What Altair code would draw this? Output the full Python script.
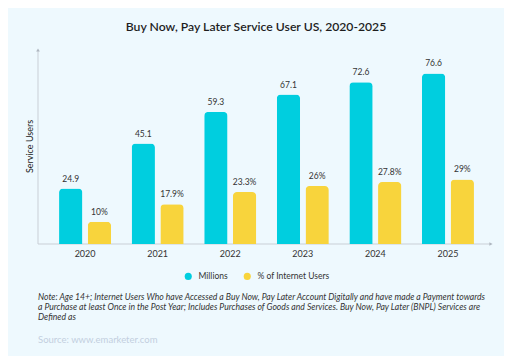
import altair as alt
import pandas as pd

years = ["2020", "2021", "2022", "2023", "2024", "2025"]
millions = [24.9, 45.1, 59.3, 67.1, 72.6, 76.6]
millions_labels = ["24.9", "45.1", "59.3", "67.1", "72.6", "76.6"]
pct = [10, 17.9, 23.3, 26, 27.8, 29]
pct_labels = ["10%", "17.9%", "23.3%", "26%", "27.8%", "29%"]
series = ["Millions", "% of Internet Users"]
colors = ["#00CEDF", "#F8D43C"]

title_text = "Buy Now, Pay Later Service User US, 2020-2025"
note_lines = [
    "Note: Age 14+; Internet Users Who have Accessed a Buy Now, Pay Later Account Digitally and have made a Payment towards",
    "a Purchase at least Once in the Post Year; Includes Purchases of Goods and Services. Buy Now, Pay Later (BNPL) Services are",
    "Defined as",
]
source_text = "Source: www.emarketer.com"

rows = []
for i, y in enumerate(years):
    rows.append({"year": y, "series": series[0], "value": millions[i], "label": millions_labels[i]})
    rows.append({"year": y, "series": series[1], "value": pct[i], "label": pct_labels[i]})
df = pd.DataFrame(rows)

FONT = "Lato"
W, H = 457, 196

x_enc = alt.X("year:N", sort=years,
              scale=alt.Scale(paddingInner=0.283, paddingOuter=0.29),
              axis=alt.Axis(title=None, domain=False, ticks=False, labelAngle=0,
                            labelPadding=5, labelFontSize=9, labelColor="#333333",
                            labelFont=FONT))
xo_enc = alt.XOffset("series:N", sort=series, scale=alt.Scale(paddingInner=0.188))
y_enc = alt.Y("value:Q", scale=alt.Scale(domain=[0, 88]),
              axis=alt.Axis(title="Service Users", domain=False, ticks=False,
                            labels=False, grid=False, titleFontSize=9,
                            titleColor="#222222", titlePadding=4, titleFont=FONT,
                            titleFontWeight="normal"))

base = alt.Chart(df)

bars = base.mark_bar(cornerRadiusTopLeft=4, cornerRadiusTopRight=4).encode(
    x=x_enc, xOffset=xo_enc, y=y_enc,
    color=alt.Color("series:N", sort=series,
                    scale=alt.Scale(domain=series, range=colors),
                    legend=alt.Legend(title=None, orient="none", legendX=146, legendY=224,
                                      direction="horizontal", symbolType="circle",
                                      symbolSize=50, symbolStrokeWidth=0,
                                      labelFontSize=8.5, labelFont=FONT,
                                      labelColor="#333333", columnPadding=15,
                                      padding=0, labelOffset=6)),
)

labels = base.mark_text(baseline="bottom", dy=-5, fontSize=8.5, font=FONT,
                        color="#333333").encode(
    x=x_enc, xOffset=xo_enc, y=y_enc, text="label:N"
)

one = alt.Data(values=[{}])
axis_color = "#C9CFD6"
y_line = alt.Chart(one).mark_rule(color=axis_color, strokeWidth=1).encode(
    x=alt.value(0), y=alt.value(2), y2=alt.value(H))
x_line = alt.Chart(one).mark_rule(color=axis_color, strokeWidth=1).encode(
    x=alt.value(0), x2=alt.value(453), y=alt.value(H))
y_arrow = alt.Chart(one).mark_point(shape="triangle-up", filled=True, size=14,
                                    color="#AEB6BF", opacity=1).encode(
    x=alt.value(0), y=alt.value(2))
x_arrow = alt.Chart(one).mark_point(shape="triangle-right", filled=True, size=14,
                                    color="#AEB6BF", opacity=1).encode(
    x=alt.value(453), y=alt.value(H))

title = alt.Chart(one).mark_text(fontSize=12.2, fontWeight=600, font=FONT,
                                 color="#1E1E1E", baseline="middle").encode(
    x=alt.value(218), y=alt.value(-21), text=alt.value(title_text))

note = alt.Chart(one).mark_text(align="left", baseline="top", fontSize=8.65,
                                fontStyle="italic", font=FONT, lineHeight=10,
                                color="#333333").encode(
    x=alt.value(0), y=alt.value(245), text=alt.value(note_lines))

source = alt.Chart(one).mark_text(align="left", baseline="middle", fontSize=9.5,
                                  font=FONT, color="#C3CFDF").encode(
    x=alt.value(0), y=alt.value(292), text=alt.value(source_text))

chart = alt.layer(y_line, x_line, bars, labels, y_arrow, x_arrow, title, note, source).properties(
    width=W, height=H,
    autosize=alt.AutoSizeParams(type="none"),
    padding={"left": 30, "top": 40, "right": 9, "bottom": 112},
    background="#EEF9FE",
).configure_view(stroke=None)

chart.save("out.html", embed_options={"renderer": "svg", "actions": False})
